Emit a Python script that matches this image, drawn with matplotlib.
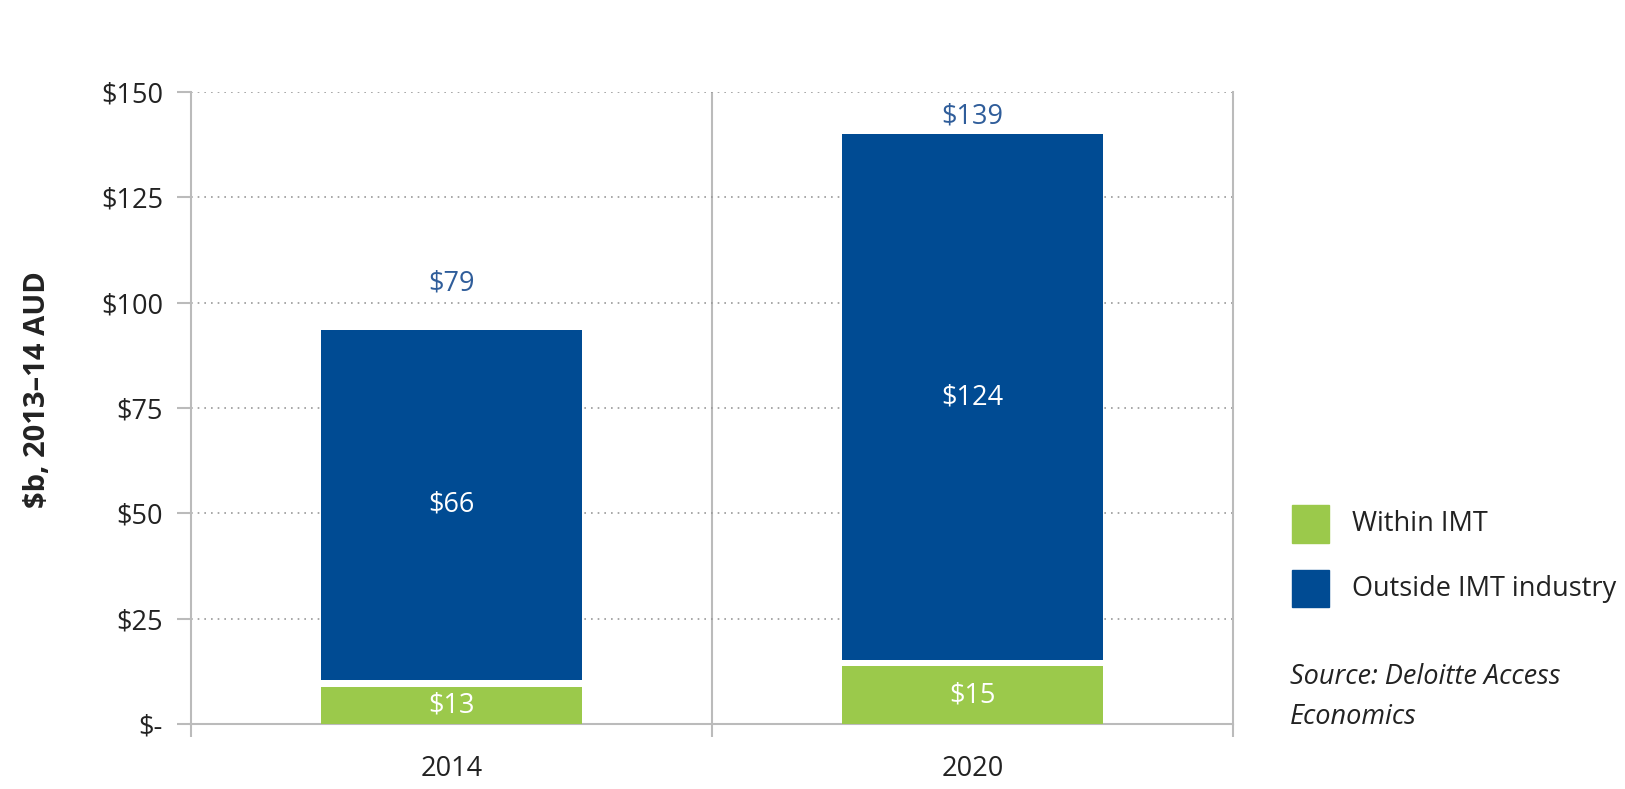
import matplotlib.pyplot as plt
import numpy as np

plt.rcParams['font.family'] = ['Open Sans', 'DejaVu Sans']

# data
years = ['2014', '2020']
within_imt = [8.9, 13.8]          # drawn bar heights
outside_imt = [83.2, 124.6]
within_labels = ['$13', '$15']
outside_labels = ['$66', '$124']
total_labels = ['$79', '$139']
total_label_y = [104.5, 144.2]
y_ticks = [0, 25, 50, 75, 100, 125, 150]
y_ticklabels = ['$-', '$25', '$50', '$75', '$100', '$125', '$150']

green = '#9BC94B'
blue = '#004B93'
grey = '#BBBBBB'
text_col = '#222222'
fs = 19.5
gap = 1.5

W, H = 1625, 789
fig = plt.figure(figsize=(W / 100, H / 100), dpi=100)
ax = fig.add_axes([190.7 / W, 1 - 724.3 / H, 1042.6 / W, 632.6 / H])

x = np.arange(len(years))
ax.bar(x, within_imt, width=0.5, color=green, zorder=3)
blue_bottom = np.array(within_imt) + gap
ax.bar(x, outside_imt, width=0.5, bottom=blue_bottom, color=blue, zorder=3)

for i in range(len(years)):
    ax.text(x[i], within_imt[i] / 2, within_labels[i], ha='center', va='center',
            color='white', fontsize=fs, zorder=4)
    ax.text(x[i], blue_bottom[i] + outside_imt[i] / 2, outside_labels[i], ha='center',
            va='center', color='white', fontsize=fs, zorder=4)
    ax.text(x[i], total_label_y[i], total_labels[i], ha='center', va='center',
            color='#2F5D9A', fontsize=fs, zorder=4)

ax.set_xlim(-0.5, 1.5)
ax.set_ylim(0, 150)
ax.set_yticks(y_ticks)
ax.set_yticklabels(y_ticklabels)
ax.set_xticks([-0.5, 0.5, 1.5])
ax.set_xticklabels([])
ax.set_xticks(x, minor=True)
ax.set_xticklabels(years, minor=True)
ax.tick_params(axis='x', which='major', direction='out', length=9, color=grey, width=1.5)
ax.tick_params(axis='x', which='minor', length=0, pad=22, labelsize=fs, labelcolor=text_col)
ax.tick_params(axis='y', direction='out', length=10, color=grey, width=1.5,
               labelsize=fs, labelcolor=text_col, pad=10)

ax.yaxis.grid(True, linestyle=(0, (1, 3)), color='#999999', linewidth=1.2, zorder=0)
ax.axvline(0.5, color=grey, linewidth=1.5, zorder=1)

ax.spines['top'].set_visible(False)
for s in ['left', 'right', 'bottom']:
    ax.spines[s].set_color(grey)
    ax.spines[s].set_linewidth(1.5)

fig.text(38 / W, 1 - 390 / H, '$b, 2013–14 AUD', fontsize=21, fontweight='bold',
         color=text_col, rotation=90, ha='center', va='center')

# legend
fig.patches.append(plt.Rectangle((1292 / W, 1 - 543 / H), 37 / W, 38 / H,
                                 transform=fig.transFigure, color=green))
fig.patches.append(plt.Rectangle((1292 / W, 1 - 607 / H), 37 / W, 37 / H,
                                 transform=fig.transFigure, color=blue))
fig.text(1352 / W, 1 - 524 / H, 'Within IMT', fontsize=fs, va='center', color=text_col)
fig.text(1352 / W, 1 - 589 / H, 'Outside IMT industry', fontsize=fs, va='center', color=text_col)
fig.text(1290 / W, 1 - 697 / H, 'Source: Deloitte Access\nEconomics', fontsize=fs,
         style='italic', va='center', color=text_col, linespacing=1.55)

fig.savefig('out.png', dpi=100, facecolor='white')
